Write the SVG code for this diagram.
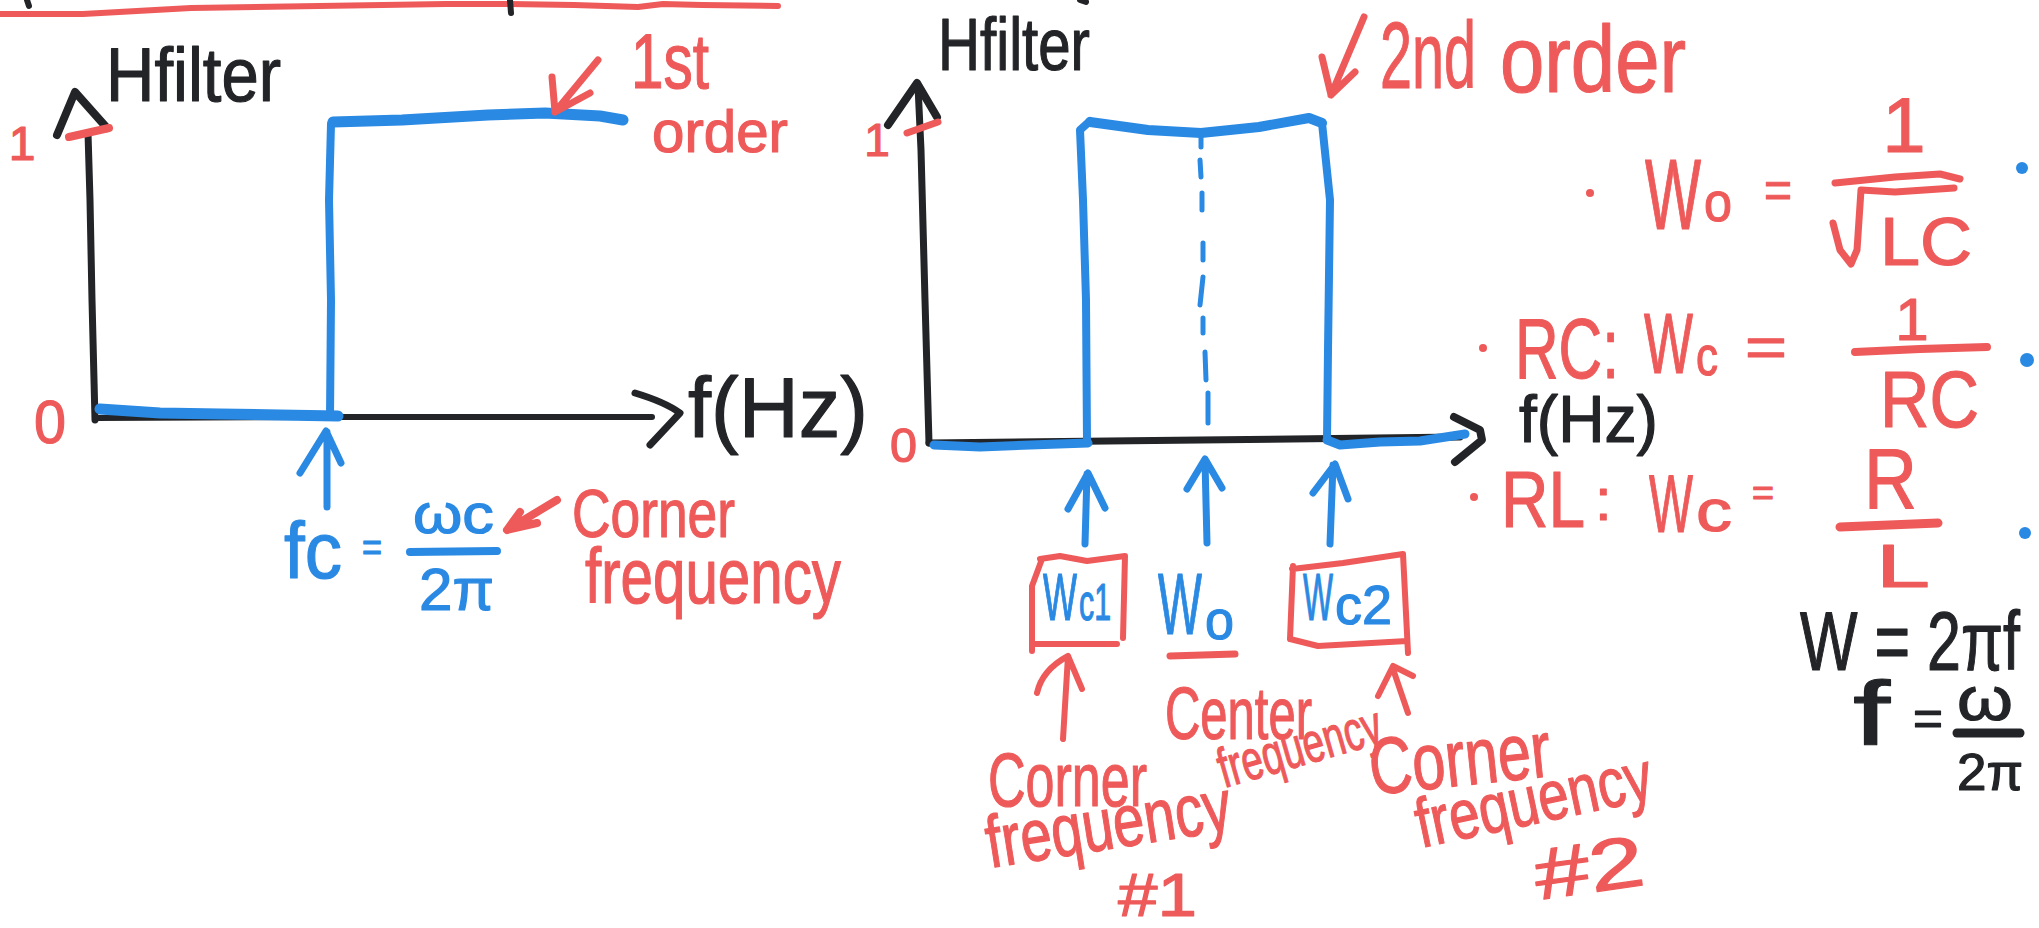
<svg xmlns="http://www.w3.org/2000/svg" width="2039" height="928" viewBox="0 0 2039 928">
  <style>
    .ink { fill: none; stroke-linecap: round; stroke-linejoin: round; }
    .k { stroke: #232427; }
    .r { stroke: #EE5A5A; }
    .b { stroke: #2A89E3; }
    .t { font-family: "Liberation Sans", Arial, sans-serif; stroke-width: 1.2; stroke-linejoin: round; }
    .tk { fill: #232427; stroke: #232427; }
    .tr { fill: #EE5A5A; stroke: #EE5A5A; }
    .tb { fill: #2A89E3; stroke: #2A89E3; }
  </style>
  <rect width="2039" height="928" fill="#ffffff"/>

  <!-- header rule and stray marks along the top edge -->
  <g id="header">
    <path class="ink r" stroke-width="6" d="M0,14 L83,14 L191,8 L319,6 L446,4 L510,4 L574,5 L638,7 L663,4 L702,5 L778,6"/>
    <path class="ink k" stroke-width="6" d="M27,0 L29,6 M510,0 L511,13 M1080,0 L1086,2"/>
  </g>

  <!-- first-order response -->
  <g id="plot-first-order">
    <path class="ink k" stroke-width="7" d="M95,420 L92,300 L90,200 L88,133"/>
    <path class="ink k" stroke-width="8" d="M57,135 L75,92 L107,128"/>
    <path class="ink r" stroke-width="8" d="M69,137 L109,128"/>
    <path class="ink k" stroke-width="6" d="M95,418 L300,417 L500,417 L652,417"/>
    <path class="ink k" stroke-width="7" d="M635,393 Q665,402 680,413 L650,445"/>
    <path class="ink b" stroke-width="11" d="M100,409 L160,413 L220,414 L280,415 L338,416"/>
    <path class="ink b" stroke-width="8" d="M330,417 L331,300 L329,200 L331,124"/>
    <path class="ink b" stroke-width="11" d="M333,122 L402,120 L488,115 L545,113 L600,116 L623,120"/>
    <text class="t tk" x="106" y="101" font-size="76" textLength="175" lengthAdjust="spacingAndGlyphs">Hfilter</text>
    <text class="t tr" x="22" y="160" font-size="48" text-anchor="middle">1</text>
    <text class="t tr" x="34" y="443" font-size="62" textLength="32" lengthAdjust="spacingAndGlyphs">0</text>
    <text class="t tk" x="688" y="437" font-size="86" textLength="180" lengthAdjust="spacingAndGlyphs">f(Hz)</text>
    <text class="t tr" x="631" y="88" font-size="78" textLength="78" lengthAdjust="spacingAndGlyphs">1st</text>
    <text class="t tr" x="652" y="152" font-size="60" textLength="136" lengthAdjust="spacingAndGlyphs">order</text>
  </g>

  <!-- corner frequency formula of the first-order plot -->
  <g id="label-fc">
    <text class="t tb" x="284" y="578" font-size="80" textLength="58" lengthAdjust="spacingAndGlyphs">fc</text>
    <text class="t tb" x="362" y="561" font-size="40" textLength="20" lengthAdjust="spacingAndGlyphs">=</text>
    <text class="t tb" x="413" y="533" font-size="56" textLength="81" lengthAdjust="spacingAndGlyphs">ωc</text>
    <path class="ink b" stroke-width="8" d="M410,552 L497,551"/>
    <text class="t tb" x="419" y="610" font-size="60" textLength="75" lengthAdjust="spacingAndGlyphs">2π</text>
    <text class="t tr" x="572" y="537" font-size="68" textLength="163" lengthAdjust="spacingAndGlyphs">Corner</text>
    <text class="t tr" x="585" y="603" font-size="78" textLength="256" lengthAdjust="spacingAndGlyphs">frequency</text>
  </g>

  <!-- second-order (band) response -->
  <g id="plot-second-order">
    <path class="ink k" stroke-width="7" d="M929,443 L925,300 L921,150 L918,86"/>
    <path class="ink k" stroke-width="8" d="M888,125 L917,83 L937,117"/>
    <path class="ink r" stroke-width="7" d="M907,133 L938,122"/>
    <path class="ink k" stroke-width="7" d="M929,443 L1200,440 L1460,437"/>
    <path class="ink k" stroke-width="8" d="M1454,417 L1480,430 L1482,440 L1455,462"/>
    <path class="ink b" stroke-width="9" d="M934,445 L980,447 L1030,445 L1088,443"/>
    <path class="ink b" stroke-width="8" d="M1087,443 L1086,300 L1083,200 L1080,130 L1090,121"/>
    <path class="ink b" stroke-width="10" d="M1090,122 L1148,130 L1201,133 L1259,127 L1309,118 L1322,123"/>
    <path class="ink b" stroke-width="8" d="M1322,123 L1330,200 L1328,350 L1327,440"/>
    <path class="ink b" stroke-width="9" d="M1327,440 L1340,445 L1380,442 L1420,441 L1465,434"/>
    <path class="ink b" stroke-width="5" d="M1201,137 L1201,147 M1200,160 L1201,177 M1202,193 L1202,210 M1203,243 L1203,260 M1203,277 L1200,305 M1203,318 L1203,333 M1205,352 L1206,380 M1208,393 L1208,423"/>
    <text class="t tk" x="938" y="70" font-size="74" textLength="152" lengthAdjust="spacingAndGlyphs">Hfilter</text>
    <text class="t tr" x="877" y="156" font-size="46" text-anchor="middle">1</text>
    <text class="t tr" x="890" y="462" font-size="48" textLength="27" lengthAdjust="spacingAndGlyphs">0</text>
    <text class="t tk" x="1519" y="442" font-size="66" textLength="139" lengthAdjust="spacingAndGlyphs">f(Hz)</text>
    <text class="t tr" x="1380" y="88" font-size="95" textLength="96" lengthAdjust="spacingAndGlyphs">2nd</text>
    <text class="t tr" x="1500" y="92" font-size="95" textLength="186" lengthAdjust="spacingAndGlyphs">order</text>
  </g>

  <!-- labels under the band response -->
  <g id="box-wc1">
    <path class="ink r" stroke-width="6" d="M1040,559 L1060,556 L1087,561 L1125,556 M1042,559 L1032,586 L1032,651 M1125,556 L1123,638 M1033,644 L1117,644"/>
    <text class="t tb" x="1043" y="620" font-size="66" textLength="34" lengthAdjust="spacingAndGlyphs">W</text>
    <text class="t tb" x="1079" y="620" font-size="52" textLength="32" lengthAdjust="spacingAndGlyphs">c1</text>
  </g>
  <g id="label-w0">
    <text class="t tb" x="1158" y="634" font-size="88" textLength="44" lengthAdjust="spacingAndGlyphs">W</text>
    <text class="t tb" x="1205" y="639" font-size="56" textLength="29" lengthAdjust="spacingAndGlyphs">o</text>
    <path class="ink r" stroke-width="7" d="M1170,656 L1235,654"/>
  </g>
  <g id="box-wc2">
    <path class="ink r" stroke-width="6" d="M1292,569 L1343,563 L1403,554 M1293,566 L1290,639 M1290,639 L1318,646 L1407,641 M1403,554 L1408,653"/>
    <text class="t tb" x="1303" y="620" font-size="66" textLength="30" lengthAdjust="spacingAndGlyphs">W</text>
    <text class="t tb" x="1335" y="624" font-size="56" textLength="57" lengthAdjust="spacingAndGlyphs">c2</text>
  </g>
  <g id="notes-bottom">
    <text class="t tr" x="1165" y="739" font-size="74" textLength="147" lengthAdjust="spacingAndGlyphs">Center</text>
    <text class="t tr" x="1224" y="788" font-size="56" textLength="168" lengthAdjust="spacingAndGlyphs" transform="rotate(-16 1224 788)">frequency</text>
    <text class="t tr" x="988" y="806" font-size="76" textLength="159" lengthAdjust="spacingAndGlyphs">Corner</text>
    <text class="t tr" x="990" y="868" font-size="74" textLength="247" lengthAdjust="spacingAndGlyphs" transform="rotate(-9 990 868)">frequency</text>
    <text class="t tr" x="1118" y="916" font-size="62" textLength="79" lengthAdjust="spacingAndGlyphs">#1</text>
    <text class="t tr" x="1372" y="795" font-size="80" textLength="182" lengthAdjust="spacingAndGlyphs" transform="rotate(-6 1372 795)">Corner</text>
    <text class="t tr" x="1421" y="848" font-size="70" textLength="240" lengthAdjust="spacingAndGlyphs" transform="rotate(-12 1421 848)">frequency</text>
    <text class="t tr" x="1538" y="900" font-size="72" textLength="110" lengthAdjust="spacingAndGlyphs" transform="rotate(-8 1538 900)">#2</text>
  </g>

  <!-- resonance and cutoff formulas -->
  <g id="formula-w0">
    <circle cx="1590" cy="193" r="4" fill="#EE5A5A"/>
    <text class="t tr" x="1645" y="229" font-size="100" textLength="56" lengthAdjust="spacingAndGlyphs">W</text>
    <text class="t tr" x="1704" y="221" font-size="56" textLength="28" lengthAdjust="spacingAndGlyphs">o</text>
    <text class="t tr" x="1764" y="208" font-size="52" textLength="28" lengthAdjust="spacingAndGlyphs">=</text>
    <text class="t tr" x="1904" y="152" font-size="78" text-anchor="middle">1</text>
    <path class="ink r" stroke-width="7" d="M1835,183 L1895,177 L1940,174 L1960,179"/>
    <path class="ink r" stroke-width="7" d="M1833,223 L1840,250 L1851,264 L1857,250 L1861,190 L1895,192 L1954,188"/>
    <text class="t tr" x="1880" y="265" font-size="68" textLength="92" lengthAdjust="spacingAndGlyphs">LC</text>
  </g>
  <g id="formula-rc">
    <circle cx="1483" cy="348" r="4" fill="#EE5A5A"/>
    <text class="t tr" x="1515" y="378" font-size="86" textLength="104" lengthAdjust="spacingAndGlyphs">RC:</text>
    <text class="t tr" x="1644" y="373" font-size="86" textLength="49" lengthAdjust="spacingAndGlyphs">W</text>
    <text class="t tr" x="1696" y="375" font-size="56" textLength="22" lengthAdjust="spacingAndGlyphs">c</text>
    <text class="t tr" x="1745" y="367" font-size="58" textLength="42" lengthAdjust="spacingAndGlyphs">=</text>
    <text class="t tr" x="1912" y="340" font-size="60" text-anchor="middle">1</text>
    <path class="ink r" stroke-width="8" d="M1855,352 L1920,349 L1987,347"/>
    <text class="t tr" x="1880" y="427" font-size="80" textLength="99" lengthAdjust="spacingAndGlyphs">RC</text>
  </g>
  <g id="formula-rl">
    <circle cx="1474" cy="497" r="4" fill="#EE5A5A"/>
    <text class="t tr" x="1501" y="527" font-size="80" textLength="84" lengthAdjust="spacingAndGlyphs">RL</text>
    <text class="t tr" x="1595" y="520" font-size="60">:</text>
    <text class="t tr" x="1649" y="532" font-size="82" textLength="44" lengthAdjust="spacingAndGlyphs">W</text>
    <text class="t tr" x="1696" y="531" font-size="60" textLength="36" lengthAdjust="spacingAndGlyphs">c</text>
    <text class="t tr" x="1752" y="505" font-size="36" textLength="22" lengthAdjust="spacingAndGlyphs">=</text>
    <text class="t tr" x="1864" y="508" font-size="86" textLength="53" lengthAdjust="spacingAndGlyphs">R</text>
    <path class="ink r" stroke-width="9" d="M1840,527 L1938,523"/>
    <text class="t tr" x="1876" y="587" font-size="62" textLength="54" lengthAdjust="spacingAndGlyphs">L</text>
  </g>
  <g id="bullets">
    <circle cx="2022" cy="168" r="6" fill="#2A89E3"/>
    <circle cx="2027" cy="360" r="7" fill="#2A89E3"/>
    <circle cx="2025" cy="533" r="6" fill="#2A89E3"/>
  </g>
  <g id="formula-omega">
    <text class="t tk" x="1800" y="670" font-size="84" textLength="220" lengthAdjust="spacingAndGlyphs">W = 2πf</text>
    <text class="t tk" x="1853" y="745" font-size="90" textLength="37" lengthAdjust="spacingAndGlyphs">f</text>
    <text class="t tk" x="1913" y="735" font-size="50" textLength="30" lengthAdjust="spacingAndGlyphs">=</text>
    <text class="t tk" x="1957" y="720" font-size="62" textLength="56" lengthAdjust="spacingAndGlyphs">ω</text>
    <path class="ink k" stroke-width="9" d="M1957,733 L2020,733"/>
    <text class="t tk" x="1957" y="790" font-size="52" textLength="66" lengthAdjust="spacingAndGlyphs">2π</text>
  </g>

  <!-- pointer arrows -->
  <g id="connectors">
    <path class="ink r" stroke-width="7" d="M598,60 L555,112 M552,77 L555,112 L590,93"/>
    <path class="ink r" stroke-width="7" d="M1364,17 L1331,95 M1322,57 L1331,95 L1355,72"/>
    <path class="ink r" stroke-width="8" d="M557,500 L507,530 M520,512 L507,530 L537,523"/>
    <path class="ink b" stroke-width="7" d="M327,507 L327,432 M300,473 L326,431 L341,463"/>
    <path class="ink b" stroke-width="7" d="M1085,544 L1087,474 M1068,509 L1088,473 L1105,508"/>
    <path class="ink b" stroke-width="7" d="M1207,543 L1205,461 M1187,489 L1205,459 L1222,488"/>
    <path class="ink b" stroke-width="7" d="M1330,544 L1333,465 M1313,493 L1335,464 L1348,499"/>
    <path class="ink r" stroke-width="6" d="M1063,739 L1068,656 M1037,693 Q1042,670 1068,656 L1082,689"/>
    <path class="ink r" stroke-width="6" d="M1408,713 L1393,669 M1378,696 L1393,666 L1413,676"/>
  </g>
</svg>
